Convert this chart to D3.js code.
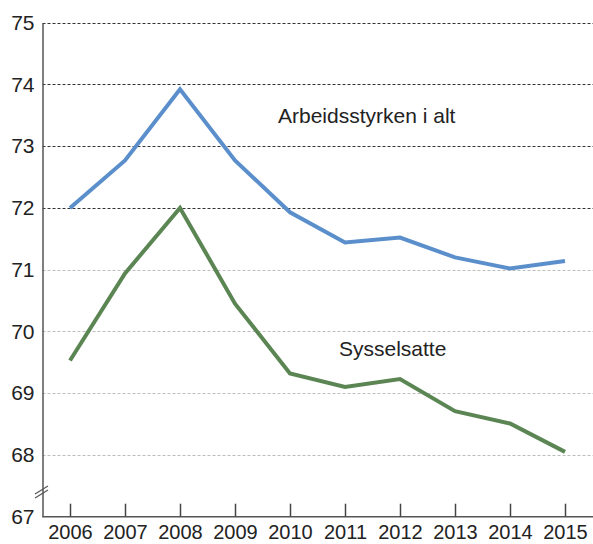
<!DOCTYPE html>
<html>
<head>
<meta charset="utf-8">
<script src="https://cdn.jsdelivr.net/npm/d3@7"></script>
<style>
  body { margin: 0; background: #fff; }
  svg text { font-family: "Liberation Sans", Arial, sans-serif; fill: #222; }
</style>
</head>
<body>
<svg id="chart" width="593" height="544"></svg>
<script>
// Years on the x axis
const years = [2006, 2007, 2008, 2009, 2010, 2011, 2012, 2013, 2014, 2015];
// Labour force total, percent
const arbeidsstyrken = [72.0, 72.77, 73.92, 72.77, 71.93, 71.44, 71.52, 71.2, 71.02, 71.14];
// Employed, percent
const sysselsatte = [69.53, 70.94, 72.0, 70.45, 69.32, 69.1, 69.23, 68.71, 68.51, 68.05];
// Y tick values
const yTicks = [67, 68, 69, 70, 71, 72, 73, 74, 75];
const darkGrid = [72, 73, 74, 75];

const svg = d3.select("#chart");

const x = d3.scaleLinear().domain([2006, 2015]).range([70, 565]);
const y = d3.scaleLinear().domain([67, 75]).range([516.7, 22.7]);
const axisX = 42.5;

// Gridlines
svg.append("g")
    .selectAll("line")
    .data(yTicks.filter(d => d > 67))
    .enter()
    .append("line")
    .attr("x1", axisX)
    .attr("x2", 593)
    .attr("y1", d => Math.round(y(d)) + 0.5)
    .attr("y2", d => Math.round(y(d)) + 0.5)
    .attr("stroke", d => darkGrid.includes(d) ? "#333" : "#bdbdbd")
    .attr("stroke-width", 1.2)
    .attr("stroke-dasharray", "3,2");

// Y axis
const gy = svg.append("g")
    .attr("transform", `translate(${axisX},0)`)
    .call(d3.axisLeft(y).tickValues(yTicks).tickSize(0).tickPadding(8).tickFormat(d3.format("d")));
gy.select(".domain").attr("stroke", "#555").attr("stroke-width", 1.5);
gy.selectAll("text").attr("font-size", "21px").attr("font-family", null);

// Axis break mark
[0, 4].forEach(off => {
    svg.append("line")
        .attr("x1", 35).attr("y1", 494 + off)
        .attr("x2", 48).attr("y2", 486 + off)
        .attr("stroke", "#555")
        .attr("stroke-width", 1.3);
});

// X axis with ticks pointing up
const gx = svg.append("g")
    .attr("transform", `translate(0,${y(67)})`)
    .call(d3.axisBottom(x).tickValues(years).tickSizeInner(-13).tickSizeOuter(0).tickPadding(8).tickFormat(d3.format("d")));
gx.select(".domain").attr("d", `M${axisX},0H593`).attr("stroke", "#555").attr("stroke-width", 1.5);
gx.selectAll(".tick line").attr("stroke", "#444").attr("stroke-width", 1.5);
gx.selectAll("text").attr("font-size", "20px").attr("font-family", null);

// Lines
const line = d3.line()
    .x((d, i) => x(years[i]))
    .y(d => y(d));

svg.append("path")
    .datum(arbeidsstyrken)
    .attr("d", line)
    .attr("fill", "none")
    .attr("stroke", "#5b8fcb")
    .attr("stroke-width", 4);

svg.append("path")
    .datum(sysselsatte)
    .attr("d", line)
    .attr("fill", "none")
    .attr("stroke", "#5b8654")
    .attr("stroke-width", 4);

// Series labels
svg.append("text")
    .attr("x", 278)
    .attr("y", 123)
    .attr("font-size", "21px")
    .text("Arbeidsstyrken i alt");

svg.append("text")
    .attr("x", 339)
    .attr("y", 356)
    .attr("font-size", "21px")
    .text("Sysselsatte");
</script>
</body>
</html>
